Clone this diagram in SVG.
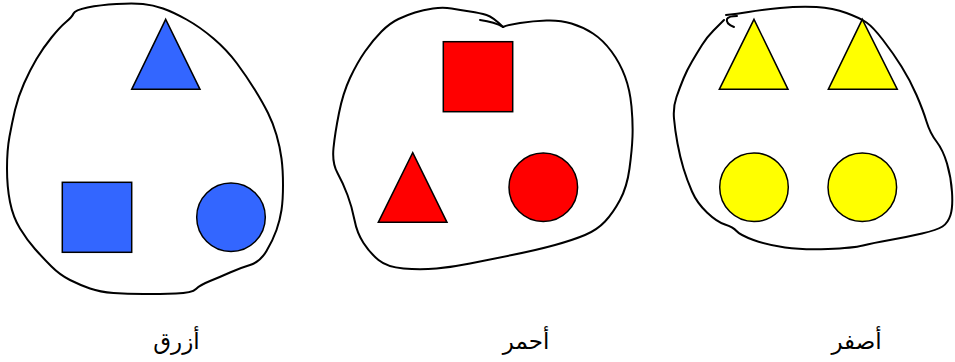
<svg xmlns="http://www.w3.org/2000/svg" width="955" height="362" viewBox="0 0 955 362">
<style>
.outline{fill:none;stroke:#000;stroke-width:2;stroke-linejoin:round;stroke-linecap:round}
.shape{stroke:#000;stroke-width:1.5}
.blue{fill:#3366FF}
.red{fill:#FF0000}
.yellow{fill:#FFFF00}
.label{font-family:"DejaVu Sans","Liberation Sans",sans-serif;font-size:23px;fill:#000;text-anchor:middle}
</style>
<rect width="955" height="362" fill="#fff"/>
<g id="group-blue">
<path class="outline" d="M87.5,7.5 Q100,5 116.5,4 Q133,3 143,4 Q153,5 163,8.5 Q173,12 186.5,19.5 Q200,27 213.5,38.5 Q227,50 237,63.5 Q247,77 255,90 Q263,103 268,113 Q273,123 276.5,135 Q280,147 281.5,158.5 Q283,170 283,185 Q283,200 281.5,210 Q280,220 276.5,230 Q273,240 266.5,251 Q260,262 250,265 Q240,268 230,272.5 Q220,277 210,281 Q200,285 196,289 Q192,293 176,293.5 Q160,294 143.5,294 Q127,294 113.5,293 Q100,292 90,288.5 Q80,285 70,280 Q60,275 51.5,266.5 Q43,258 35,249 Q27,240 20,228.5 Q13,217 10,202 Q7,187 7,168.5 Q7,150 9.5,136.5 Q12,123 15,110 Q18,97 24,83.5 Q30,70 36.5,59 Q43,48 51.5,37.5 Q60,27 66,22 Q72,17 73.5,13.5 Q75,10 87.5,7.5 Z"/>
<polygon class="shape blue" points="165.7,19.3 200,89.3 131.7,89.3"/>
<rect class="shape blue" x="62.3" y="182.3" width="69.4" height="70"/>
<circle class="shape blue" cx="231" cy="217.3" r="34.3"/>
<text class="label" x="176.5" y="349" direction="rtl">أزرق</text>
</g>
<g id="group-red">
<path class="outline" d="M480,20 Q495,22 503,27"/>
<path class="outline" d="M503,27 Q507,25 520,23 Q533,21 546.5,20.5 Q560,20 571.5,23.5 Q583,27 593,33.5 Q603,40 611.5,51.5 Q620,63 625,76.5 Q630,90 631.5,106.5 Q633,123 632.5,136.5 Q632,150 629.5,168.5 Q627,187 620,200 Q613,213 605,221.5 Q597,230 585,235 Q573,240 555,245 Q537,250 512,255 Q487,260 470,263.5 Q453,267 436.5,268.5 Q420,270 403.5,268.5 Q387,267 378.5,260 Q370,253 363.5,243 Q357,233 354.5,220 Q352,207 347.5,195 Q343,183 337.5,173 Q332,163 333.5,148 Q335,133 339,113 Q343,93 350,78 Q357,63 365,51.5 Q373,40 381.5,31.5 Q390,23 398.5,19 Q407,15 415,12.5 Q423,10 433,8.5 Q443,7 451.5,8.5 Q460,10 470,11.5 Q480,13 486.5,15 Q493,17 503,27"/>
<rect class="shape red" x="443.3" y="41.7" width="69.4" height="70"/>
<polygon class="shape red" points="412.7,152.7 447,222.3 378.3,222.3"/>
<circle class="shape red" cx="543.3" cy="187.3" r="34.3"/>
<text class="label" x="526" y="349" direction="rtl">أحمر</text>
</g>
<g id="group-yellow">
<path class="outline" d="M726,15 Q737,14 748.5,12 Q760,10 780,8 Q800,6 816.5,7 Q833,8 846.5,13 Q860,18 866.5,22.5 Q873,27 883,40 Q893,53 901.5,66.5 Q910,80 916.5,95 Q923,110 926.5,121.5 Q930,133 936.5,141.5 Q943,150 947,163.5 Q951,177 952,192 Q953,207 950.5,215 Q948,223 942.5,226.5 Q937,230 922,233.5 Q907,237 890,240 Q873,243 863,245.5 Q853,248 828,249 Q803,250 785,247.5 Q767,245 753.5,240 Q740,235 736.5,231 Q733,227 725,224.5 Q717,222 707,212.5 Q697,203 692,191.5 Q687,180 683.5,168.5 Q680,157 677.5,143.5 Q675,130 674,118.5 Q673,107 676.5,97 Q680,87 683.5,78.5 Q687,70 692,61.5 Q697,53 702,45 Q707,37 713.5,30.5 Q720,24 724,20"/>
<path class="outline" d="M737,16 C732,16 728,17 727,19 C726,22 729,25 734,27"/>
<polygon class="shape yellow" points="754,19.3 788,89.3 719.3,89.3"/>
<polygon class="shape yellow" points="862.3,19.3 897.3,89.3 828.3,89.3"/>
<circle class="shape yellow" cx="754" cy="187.3" r="34.3"/>
<circle class="shape yellow" cx="862.3" cy="187.3" r="34.3"/>
<text class="label" x="856.5" y="349" direction="rtl">أصفر</text>
</g>
</svg>
